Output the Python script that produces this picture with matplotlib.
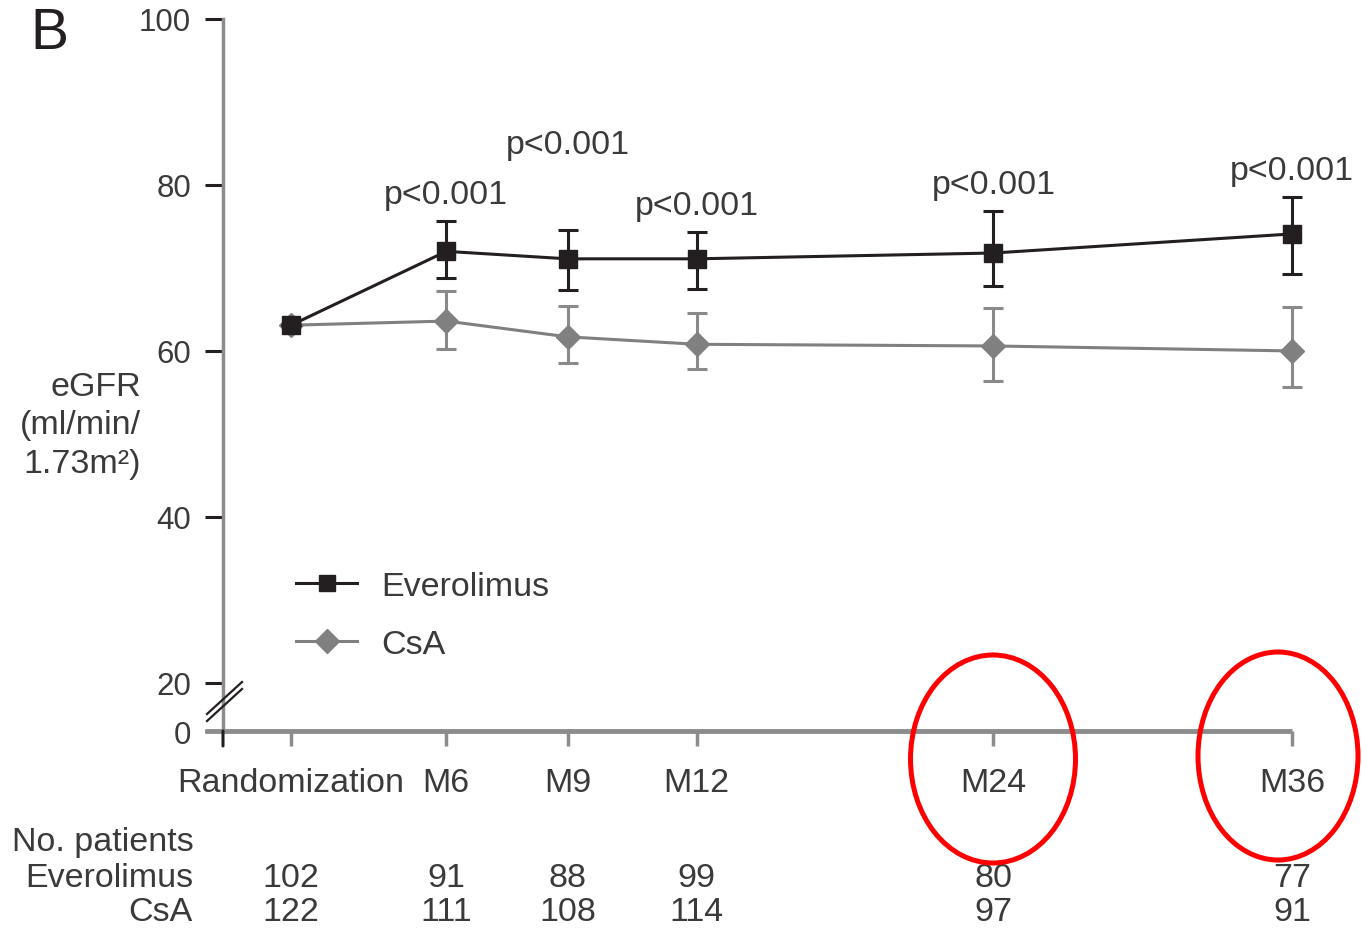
import matplotlib.pyplot as plt
from matplotlib.lines import Line2D
from matplotlib.patches import Ellipse
import matplotlib.transforms as mtransforms

plt.rcParams['font.family'] = ['Liberation Sans', 'DejaVu Sans']

# visit labels and spacing along the x axis (the original is not to scale)
visits = ['Randomization', 'M6', 'M9', 'M12', 'M24', 'M36']
visit_x = [0, 155, 276, 405, 701, 999]

# eGFR means with upper / lower error bar ends
evr_mean = [63.1, 72.0, 71.1, 71.1, 71.8, 74.1]
evr_hi = [63.1, 75.7, 74.6, 74.3, 76.9, 78.6]
evr_lo = [63.1, 68.8, 67.4, 67.5, 67.8, 69.3]

csa_mean = [63.1, 63.6, 61.7, 60.8, 60.6, 60.0]
csa_hi = [63.1, 67.2, 65.4, 64.6, 65.2, 65.3]
csa_lo = [63.1, 60.2, 58.6, 57.8, 56.4, 55.7]

# p-value labels (visit index, height)
p_text = 'p<0.001'
p_visits = [1, 2, 3, 4, 5]
p_height = [78.9, 84.9, 77.5, 80.0, 81.7]

# number of patients at each visit
n_evr = [102, 91, 88, 99, 80, 77]
n_csa = [122, 111, 108, 114, 97, 91]

black = '#231f20'
grey = '#808080'
axis_grey = '#8c8c8c'
txt = '#3a3a3a'
fs = 24.5

W, H = 1362, 929
fig = plt.figure(figsize=(W / 100, H / 100), dpi=100)

y0 = 14.2  # where the "0" sits below the break
ax_l, ax_r, ax_t, ax_b = 223, 1292, 20, 732
ax = fig.add_axes([ax_l / W, 1 - ax_b / H, (ax_r - ax_l) / W, (ax_b - ax_t) / H])
px_per_unit = (visit_x[-1] - visit_x[0]) / (1292 - 291)
ax.set_xlim(visit_x[0] - (291 - ax_l) * px_per_unit, visit_x[-1])
ax.set_ylim(y0, 100)

def err(mean, hi, lo):
    return [[m - l for m, l in zip(mean, lo)], [h - m for m, h in zip(mean, hi)]]

ax.errorbar(visit_x, csa_mean, yerr=err(csa_mean, csa_hi, csa_lo), color=grey,
            ecolor='#8a8a8a', elinewidth=2.2, capsize=7, capthick=2.2,
            marker='D', markersize=12, lw=2.2, clip_on=False, zorder=3)
ax.errorbar(visit_x, evr_mean, yerr=err(evr_mean, evr_hi, evr_lo), color=black,
            ecolor=black, elinewidth=2.2, capsize=7, capthick=2.2,
            marker='s', markersize=13, lw=2.2, clip_on=False, zorder=4)

for i, h in zip(p_visits, p_height):
    ax.text(visit_x[i], h, p_text, ha='center', va='center', fontsize=fs, color=txt)

# axes styling
for s in ['top', 'right', 'bottom']:
    ax.spines[s].set_visible(False)
ax.spines['left'].set_color(axis_grey)
ax.spines['left'].set_linewidth(2.5)
ax.set_yticks([y0, 20, 40, 60, 80, 100])
ax.set_yticklabels(['0', '20', '40', '60', '80', '100'])
ax.tick_params(axis='y', length=13, width=2.2, color=black, labelsize=22.5,
               labelcolor=txt, pad=10)
ax.set_xticks(visit_x)
ax.set_xticklabels(visits)
ax.tick_params(axis='x', length=11, width=2.5, color=axis_grey, labelsize=fs,
               labelcolor=txt, pad=15)

# x axis line extending a little left of the y axis
x_left = visit_x[0] - (291 - 205) * px_per_unit
ax.plot([x_left, visit_x[-1]], [y0, y0], color=axis_grey, lw=3.5,
        clip_on=False, zorder=2, solid_capstyle='butt')
# y spine continues below the x axis like a tick
ax.annotate('', xy=(0, 0), xytext=(0, -15), xycoords='axes fraction',
            textcoords='offset pixels',
            arrowprops=dict(arrowstyle='-', color=black, lw=2.2, shrinkA=0, shrinkB=0))

# axis break marks
for dy in [0, 7]:
    fig.add_artist(Line2D([207 / W, 242 / W], [1 - (722 - dy) / H, 1 - (690 - dy) / H],
                          color=black, lw=1.6))

# legend
handles = [Line2D([], [], color=black, marker='s', markersize=12, lw=2.2),
           Line2D([], [], color=grey, marker='D', markersize=12, lw=2.2)]
fig.legend(handles, ['Everolimus', 'CsA'], loc='upper left',
           bbox_to_anchor=(296 / W, 1 - 572 / H), frameon=False, fontsize=fs,
           handlelength=1.8, handletextpad=0.7, labelspacing=0.8,
           borderpad=0, borderaxespad=0, labelcolor=txt)

# y label
fig.text(141 / W, 1 - 426 / H, 'eGFR\n(ml/min/\n1.73m²)', ha='right', va='center',
         multialignment='right', fontsize=fs, color=txt, linespacing=1.32)

# panel letter
fig.text(30 / W, 1 - 34 / H, 'B', ha='left', va='center', fontsize=41, color=black)

# patient numbers table
trans = mtransforms.blended_transform_factory(ax.transData, fig.transFigure)
fig.text(12 / W, 1 - 843 / H, 'No. patients', ha='left', va='center', fontsize=fs, color=txt)
fig.text(193 / W, 1 - 879 / H, 'Everolimus', ha='right', va='center', fontsize=fs, color=txt)
fig.text(193 / W, 1 - 913 / H, 'CsA', ha='right', va='center', fontsize=fs, color=txt)
for x, a, b in zip(visit_x, n_evr, n_csa):
    ax.text(x, 1 - 879 / H, str(a), transform=trans, ha='center', va='center',
            fontsize=fs, color=txt)
    ax.text(x, 1 - 913 / H, str(b), transform=trans, ha='center', va='center',
            fontsize=fs, color=txt)

# red highlight circles around M24 and M36
for cx, cy, w, h in [(993, 760, 165, 208), (1278, 757, 160, 208)]:
    fig.add_artist(Ellipse((cx / W, 1 - cy / H), w / W, h / H, fill=False,
                           edgecolor='#ff0000', lw=3.6))

fig.savefig('out.png', dpi=100)
